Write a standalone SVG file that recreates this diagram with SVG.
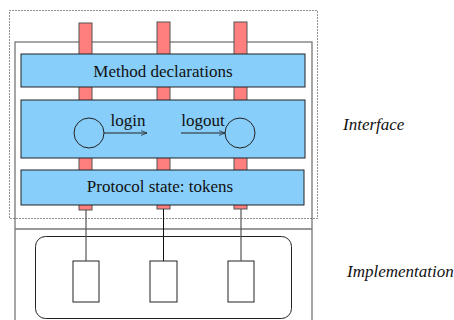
<svg xmlns="http://www.w3.org/2000/svg" width="454" height="320" viewBox="0 0 454 320">
  <defs>
    <style>
      .pin { fill: #ff7f7f; stroke: #555; stroke-width: 1; }
      .band { fill: #87cefa; stroke: #222; stroke-width: 1; }
      .lbl { font-family: "Liberation Serif", "DejaVu Serif", serif; font-size: 17px; fill: #111; }
      .side { font-family: "Liberation Serif", "DejaVu Serif", serif; font-size: 17px; font-style: italic; fill: #111; }
      .wire { stroke: #555; stroke-width: 1.2; fill: none; }
      .unit { fill: #fff; stroke: #222; stroke-width: 1; }
    </style>
    <marker id="arrow" viewBox="0 0 10 10" refX="10" refY="5" markerWidth="8" markerHeight="6" orient="auto" markerUnits="userSpaceOnUse">
      <path d="M0,1 L10,5 L0,9" fill="none" stroke="#222" stroke-width="1.2"/>
    </marker>
  </defs>
  <rect width="454" height="320" fill="#fff"/>

  <!-- component frame -->
  <g id="frame">
    <rect x="15" y="42" width="297" height="290" fill="none" stroke="#777" stroke-width="1.3"/>
    <line x1="15" y1="229" x2="312" y2="229" stroke="#777" stroke-width="1.3"/>
  </g>

  <!-- interface boundary -->
  <rect id="interface-boundary" x="9.5" y="10.5" width="308" height="208" fill="none" stroke="#222" stroke-width="1" stroke-dasharray="1,2"/>

  <!-- pins through the interface layers -->
  <g id="pins">
    <rect class="pin" x="79" y="23" width="13" height="187"/>
    <rect class="pin" x="157" y="22" width="13" height="187"/>
    <rect class="pin" x="234" y="22" width="13" height="187"/>
  </g>

  <g id="method-declarations">
    <rect class="band" x="21" y="54" width="284" height="33"/>
    <text class="lbl" x="163" y="77" text-anchor="middle">Method declarations</text>
  </g>

  <g id="session-states">
    <rect class="band" x="21" y="100" width="284" height="58"/>
    <circle cx="89" cy="133" r="15" fill="none" stroke="#222" stroke-width="1"/>
    <circle cx="240" cy="133" r="15" fill="none" stroke="#222" stroke-width="1"/>
  </g>

  <g id="protocol-state">
    <rect class="band" x="21" y="170" width="283" height="35"/>
    <text class="lbl" x="160" y="192" text-anchor="middle">Protocol state: tokens</text>
  </g>

  <g id="implementation">
    <rect x="35.5" y="236.5" width="256" height="82" rx="10" ry="10" fill="none" stroke="#222" stroke-width="1"/>
    <rect class="unit" x="73" y="261" width="26" height="41"/>
    <rect class="unit" x="150" y="261" width="27" height="41"/>
    <rect class="unit" x="228" y="261" width="26" height="41"/>
  </g>

  <!-- connectors -->
  <g id="connectors">
    <line x1="104" y1="133" x2="147" y2="133" stroke="#222" stroke-width="1" marker-end="url(#arrow)"/>
    <line x1="181" y1="133" x2="225" y2="133" stroke="#222" stroke-width="1" marker-end="url(#arrow)"/>
    <text class="lbl" x="128" y="126" text-anchor="middle">login</text>
    <text class="lbl" x="203" y="126" text-anchor="middle">logout</text>
    <line class="wire" x1="86" y1="210" x2="86" y2="261"/>
    <line x1="163.5" y1="209" x2="163.5" y2="261" stroke="#111" stroke-width="1"/>
    <line class="wire" x1="241" y1="209" x2="241" y2="261"/>
  </g>

  <text class="side" x="343" y="130">Interface</text>
  <text class="side" x="347" y="277">Implementation</text>
</svg>
